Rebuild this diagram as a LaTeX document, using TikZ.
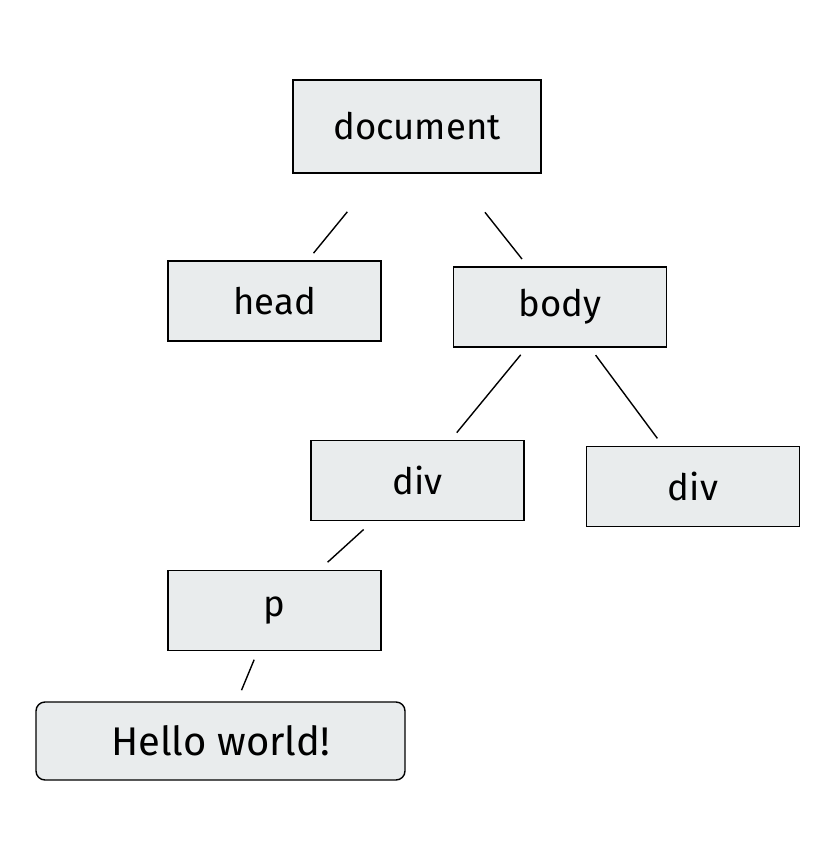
\documentclass[tikz,border=0pt]{standalone}
\usepackage{fontspec}
\setmainfont{Fira Sans}
\definecolor{boxfill}{HTML}{E9ECED}
\begin{document}
\begin{tikzpicture}[x=1pt,y=-1pt,
  treebox/.style={draw=black, line width=1.8pt, fill=boxfill, inner sep=0pt,
    minimum width=213pt, minimum height=80pt, font=\fontsize{36.5}{42}\selectfont},
  leafbox/.style={treebox, rounded corners=9pt, line width=1.4pt, minimum width=369pt, minimum height=78pt,
    font=\fontsize{40}{46}\selectfont},
  edge/.style={line width=1.4pt, shorten <=9pt, shorten >=9pt}]
\useasboundingbox (0,0) rectangle (838,864);
\node[treebox, minimum width=248pt, minimum height=93pt] (doc) at (417,126.5) {document};
\node[treebox] (head) at (274.5,301) {head};
\node[treebox] (body) at (560,307) {body};
\node[treebox] (div1) at (417.5,480.5) {div};
\node[treebox] (div2) at (693,486.5) {div};
\node[treebox] (p) at (274.5,610.5) {p};
\node[leafbox] (hello) at (220.5,741) {Hello world!};
\draw[edge, shorten <=49pt] (doc) -- (head);
\draw[edge, shorten <=49pt] (doc) -- (body);
\draw[edge] (body) -- (div1);
\draw[edge] (body) -- (div2);
\draw[edge, shorten <=12pt, shorten >=11pt] (div1) -- (p);
\draw[edge, shorten >=12pt] (p) -- (hello);
\end{tikzpicture}
\end{document}
